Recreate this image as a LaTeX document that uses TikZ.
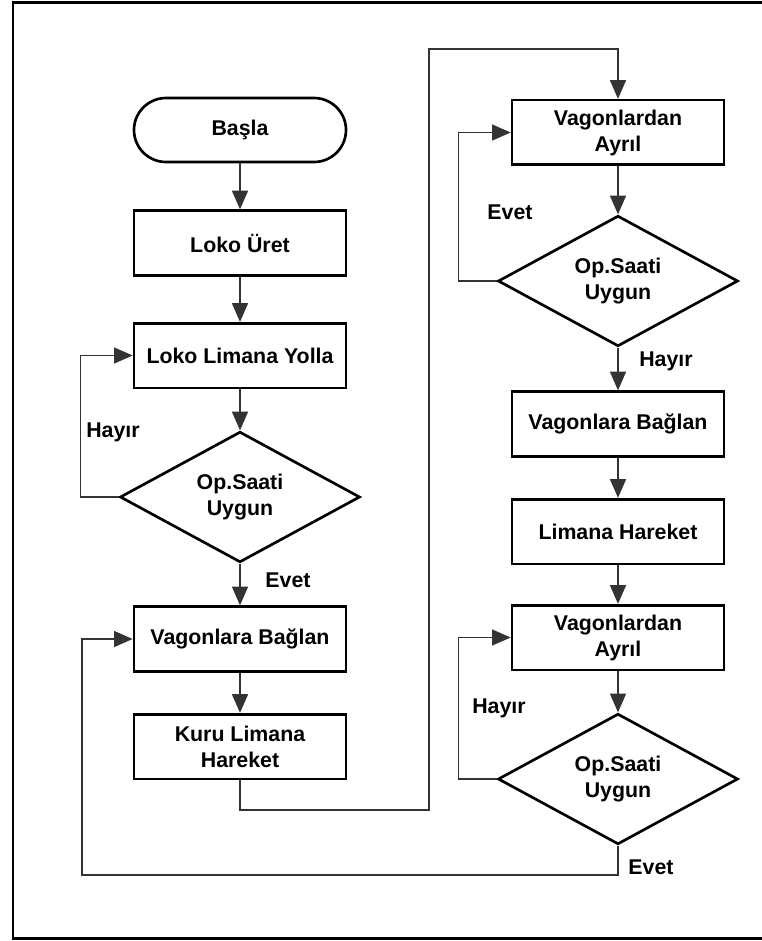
\documentclass[tikz,border=0pt]{standalone}
\usepackage{fontspec}
\setmainfont{Liberation Sans}
\usetikzlibrary{shapes.geometric,arrows.meta}
\begin{document}
\begin{tikzpicture}[x=0.75pt,y=-0.75pt,
  every node/.style={font=\fontsize{16}{19.5}\selectfont\bfseries},
  procbox/.style={draw,line width=2pt,minimum width=159pt,minimum height=48.5pt,inner sep=0pt,align=center},
  termbox/.style={procbox,rounded corners=24pt,minimum height=48pt},
  decbox/.style={draw,shape=diamond,line width=2pt,minimum width=180pt,minimum height=98pt,aspect=1.84,inner sep=0pt,align=center},
  conn/.style={line width=1.1pt,draw=black!80},
  arr/.style={conn,-{Triangle[length=14pt,width=12pt]}},
  lbl/.style={inner sep=0pt}]
\useasboundingbox (0,0) rectangle (762,941);
\draw[line width=2.2pt] (762,2.5) -- (13,2.5) -- (13,938.5) -- (762,938.5);

% left column
\node[termbox] (start) at (240,130) {Başla};
\node[procbox] (uret) at (240,243) {Loko Üret};
\node[procbox] (yolla) at (240,355.5) {Loko Limana Yolla};
\node[decbox] (d1) at (240,497) {Op.Saati\\Uygun};
\node[procbox] (vb1) at (240,639) {Vagonlara Bağlan};
\node[procbox] (kuru) at (240,746.5) {Kuru Limana\\Hareket};

% right column
\node[procbox] (va1) at (618,132.5) {Vagonlardan\\Ayrıl};
\node[decbox] (d2) at (618,281) {Op.Saati\\Uygun};
\node[procbox] (vb2) at (618,424) {Vagonlara Bağlan};
\node[procbox] (lh) at (618,531.5) {Limana Hareket};
\node[procbox] (va2) at (618,637.5) {Vagonlardan\\Ayrıl};
\node[decbox] (d3) at (618,779) {Op.Saati\\Uygun};

% helper coordinates
\coordinate (k1) at (429,810);
\coordinate (k2) at (429,49);
\coordinate (e1) at (82,875);

% connectors left
\draw[arr] (start) -- (uret);
\draw[arr] (uret) -- (yolla);
\draw[arr] (yolla) -- (d1);
\draw[arr] (d1.west) -- ++(-38,0) |- (yolla.west);
\draw[arr] (d1) -- (vb1);
\draw[arr] (vb1) -- (kuru);
\draw[arr] (kuru.south) |- (k1) -- (k2) -| (va1.north);

% connectors right
\draw[arr] (va1) -- (d2);
\draw[arr] (d2.west) -- ++(-38,0) |- (va1.west);
\draw[arr] (d2) -- (vb2);
\draw[arr] (vb2) -- (lh);
\draw[arr] (lh) -- (va2);
\draw[arr] (va2) -- (d3);
\draw[arr] (d3.west) -- ++(-38,0) |- (va2.west);
\draw[arr] (d3.south) |- (e1) |- (vb1.west);

% labels
\node[lbl] (l1) at (113,432) {Hayır};
\node[lbl] (l2) at (288,580) {Evet};
\node[lbl] (l3) at (510,212) {Evet};
\node[lbl] (l4) at (666,361) {Hayır};
\node[lbl] (l5) at (499,708) {Hayır};
\node[lbl] (l6) at (651,867) {Evet};
\end{tikzpicture}
\end{document}
